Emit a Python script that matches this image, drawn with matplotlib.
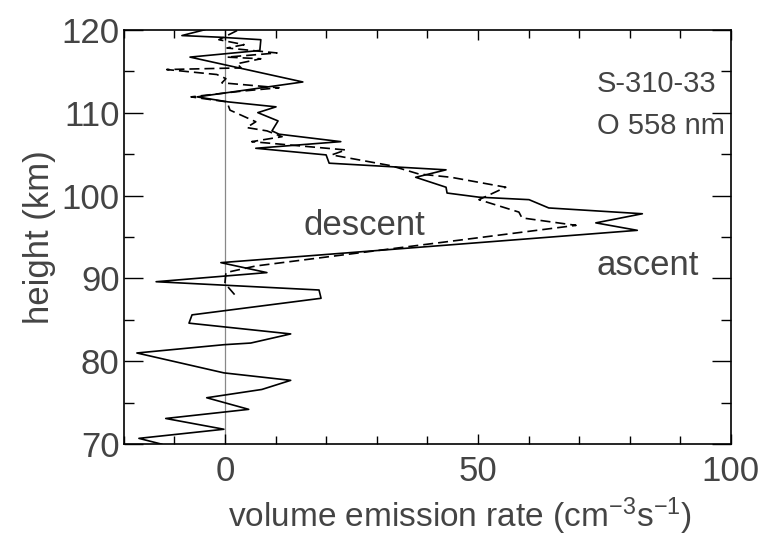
import matplotlib
matplotlib.use('Agg')
import matplotlib.pyplot as plt
from matplotlib.ticker import MultipleLocator, FixedLocator

plt.rcParams['font.family'] = ['Liberation Sans', 'DejaVu Sans']
plt.rcParams['mathtext.fontset'] = 'custom'
plt.rcParams['mathtext.rm'] = 'Liberation Sans'
plt.rcParams['mathtext.it'] = 'Liberation Sans'

# ascent profile (solid), top -> bottom
ascent_height = [120.0, 119.3, 119.1, 118.8, 117.5, 116.7, 113.7, 111.9, 111.3, 110.7,
                 110.0, 109.0, 107.8, 107.4, 106.5, 105.7, 104.9, 103.9, 103.1, 102.2,
                 101.0, 100.3, 99.8, 99.5, 98.5, 97.8, 96.7, 95.8, 91.9, 90.7,
                 89.6, 88.6, 87.6, 85.6, 84.6, 83.3, 82.2, 82.0, 81.0, 79.9,
                 78.6, 77.7, 76.6, 75.6, 74.2, 73.1, 71.8, 70.7, 70.0]
ascent_rate = [-4.0, -8.5, -1.0, 7.1, 6.9, -6.9, 15.4, -5.5, 0.6, 10.1,
               6.5, 10.5, 9.3, 10.7, 22.9, 6.1, 20.0, 20.6, 43.7, 37.7,
               43.7, 43.9, 50.2, 60.1, 64.0, 82.5, 73.3, 81.5, -0.8, 8.3,
               -13.6, 18.6, 19.0, -6.5, -7.1, 13.0, 5.1, -0.2, -17.4, -9.5,
               -0.2, 13.0, 7.3, -3.6, 4.7, -11.7, -0.2, -17.0, -12.5]

# descent profile (dashed), top -> bottom
descent_height = [119.9, 118.8, 118.2, 117.8, 117.2, 116.7, 116.5, 115.9, 115.4, 115.2,
                  114.6, 114.1, 113.6, 113.0, 112.6, 111.9, 111.3, 110.3, 108.9, 108.2,
                  107.8, 107.1, 106.5, 105.5, 104.9, 103.6, 102.6, 102.2, 101.0, 99.5,
                  98.0, 97.3, 96.4, 91.5, 90.7, 89.4, 87.7]
descent_rate = [2.4, -1.2, 3.8, 0.4, 10.3, 0.4, 7.1, 2.4, 3.2, -11.5,
                -1.6, 0.2, -0.6, 10.7, 3.4, -6.7, 0.4, 1.0, 6.1, 4.3,
                8.3, 11.3, 5.3, 23.9, 21.1, 32.8, 38.3, 44.7, 55.5, 50.2,
                58.1, 58.7, 69.4, 6.1, 0.2, 0.0, 2.4]

text_color = '#444444'

fig = plt.figure(figsize=(7.59, 5.41), dpi=100)
ax = fig.add_axes([0.163, 0.179, 0.8, 0.766])

ax.axvline(0, color='#888888', lw=0.9, zorder=1)
ax.plot(ascent_rate, ascent_height, color='black', lw=1.2, zorder=3)
ax.plot(descent_rate, descent_height, color='black', lw=1.2, ls=(0, (6, 3)), zorder=2)

ax.set_xlim(-20, 100)
ax.set_ylim(70, 120)

ax.xaxis.set_major_locator(FixedLocator([0, 50, 100]))
ax.xaxis.set_minor_locator(MultipleLocator(10))
ax.yaxis.set_major_locator(MultipleLocator(10))
ax.yaxis.set_minor_locator(MultipleLocator(5))
ax.tick_params(which='both', direction='in', top=True, right=True,
               colors='black', labelcolor=text_color, labelsize=25, width=1)
ax.tick_params(axis='x', which='major', length=7, pad=8)
ax.tick_params(axis='x', which='minor', length=6)
ax.tick_params(axis='y', which='major', length=14, pad=3)
ax.tick_params(axis='y', which='minor', length=7)
for s in ax.spines.values():
    s.set_linewidth(1.2)

ax.set_xlabel('volume emission rate (cm$^{-3}$s$^{-1}$)', fontsize=24, color=text_color)
ax.xaxis.set_label_coords(0.553, -0.125)
ax.set_ylabel('height (km)', fontsize=25, color=text_color, labelpad=4)

ax.text(73.5, 113.4, 'S-310-33', fontsize=21, color=text_color, va='center', ha='left')
ax.text(73.5, 108.4, 'O 558 nm', fontsize=21, color=text_color, va='center', ha='left')
ax.text(15.6, 96.4, 'descent', fontsize=25, color=text_color, va='center', ha='left')
ax.text(73.5, 91.6, 'ascent', fontsize=25, color=text_color, va='center', ha='left')

fig.savefig('out.png', dpi=100)
